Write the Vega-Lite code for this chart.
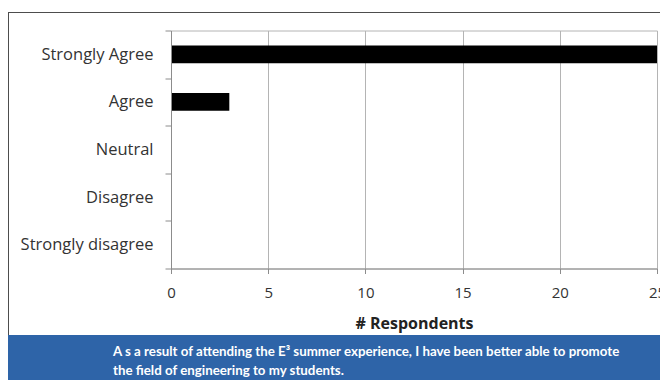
{
  "$schema": "https://vega.github.io/schema/vega-lite/v6.json",
  "padding": {"left": 8, "top": 12, "right": 0, "bottom": 0},
  "background": "white",
  "spacing": 0,
  "bounds": "full",
  "config": {"font": "Open Sans"},
  "datasets": {
    "resp": [
      {"response": "Strongly Agree", "count": 25},
      {"response": "Agree", "count": 3},
      {"response": "Neutral", "count": 0},
      {"response": "Disagree", "count": 0},
      {"response": "Strongly disagree", "count": 0}
    ],
    "caption": [
      {"line": 1, "text": "A s a result of attending the E³ summer experience, I have been better able to promote"},
      {"line": 2, "text": "the field of engineering to my students."}
    ]
  },
  "vconcat": [
    {
      "hconcat": [
        {
          "width": 1,
          "height": 323,
          "view": {"fill": "#4d4d4d", "stroke": null},
          "data": {"values": []},
          "mark": "point"
        },
        {
          "vconcat": [
            {
              "width": 651,
              "height": 1,
              "view": {"fill": "#4d4d4d", "stroke": null},
              "data": {"values": []},
              "mark": "point"
            },
            {
              "hconcat": [
                {
                  "width": 1,
                  "height": 1,
                  "view": {"fill": null, "stroke": null},
                  "data": {"values": []},
                  "mark": "point"
                },
                {
                  "width": 486,
                  "height": 238,
                  "view": {"stroke": "#b4b4b4", "strokeWidth": 1, "fill": "white"},
                  "data": {"name": "resp"},
                  "mark": {"type": "bar", "color": "black", "height": {"band": 0.375}},
                  "encoding": {
                    "y": {
                      "field": "response", "type": "nominal",
                      "sort": ["Strongly Agree", "Agree", "Neutral", "Disagree", "Strongly disagree"],
                      "scale": {"paddingInner": 0, "paddingOuter": 0},
                      "axis": {"title": null, "domain": true, "domainColor": "#8c8c8c", "domainWidth": 1, "tickColor": "#8c8c8c", "tickSize": 6, "tickBand": "extent", "labelFontSize": 16.5, "labelColor": "#333333", "labelPadding": 12, "grid": false, "zindex": 1}
                    },
                    "x": {
                      "field": "count", "type": "quantitative",
                      "scale": {"domain": [0, 25], "nice": false},
                      "axis": {"title": "# Respondents", "values": [0, 5, 10, 15, 20, 25], "labelFlush": false, "grid": true, "gridColor": "#b4b4b4", "gridOpacity": 1, "domainColor": "#8c8c8c", "tickColor": "#8c8c8c", "tickSize": 5, "labelFontSize": 15, "labelColor": "#333333", "labelPadding": 12, "titleFontSize": 16, "titleFontWeight": "bold", "titleColor": "#222222", "titlePadding": 15}
                    }
                  }
                }
              ],
              "spacing": 161,
              "bounds": "flush"
            }
          ],
          "spacing": 17.5,
          "bounds": "flush"
        }
      ],
      "spacing": 0,
      "bounds": "flush"
    },
    {
      "width": 652,
      "height": 45,
      "view": {"fill": "#2E64A8", "stroke": null},
      "data": {"name": "caption"},
      "mark": {"type": "text", "align": "left", "baseline": "middle", "color": "white", "font": "Lato", "fontWeight": "bold", "fontSize": 13.3},
      "encoding": {
        "y": {"field": "line", "type": "ordinal", "axis": null, "scale": {"type": "point", "range": [17, 36], "padding": 0}},
        "x": {"value": 105},
        "text": {"field": "text"}
      }
    }
  ]
}
